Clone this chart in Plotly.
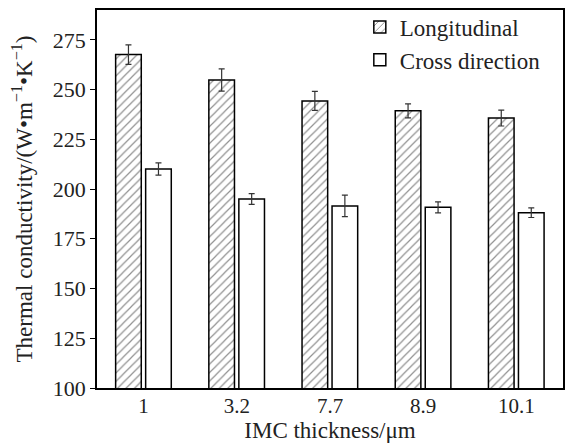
import plotly.graph_objects as go

categories = ["1", "3.2", "7.7", "8.9", "10.1"]
longitudinal = [267.6, 254.8, 244.3, 239.3, 235.7]
longitudinal_err = [4.9, 5.6, 4.8, 3.5, 4.0]
cross = [210.1, 195.0, 191.5, 190.8, 188.1]
cross_err = [3.1, 2.7, 5.4, 2.8, 2.4]

FONT = "Liberation Serif, Times New Roman, serif"

fig = go.Figure()
fig.add_trace(go.Bar(
    x=categories, y=longitudinal, name="Longitudinal",
    width=0.275, offset=-0.3,
    marker=dict(color="white", line=dict(color="black", width=1.5),
                pattern=dict(shape="/", fgcolor="#222", bgcolor="white", size=6, solidity=0.2)),
    error_y=dict(type="data", array=longitudinal_err, color="#333", thickness=1.2, width=3),
))
fig.add_trace(go.Bar(
    x=categories, y=cross, name="Cross direction",
    width=0.275, offset=0.022,
    marker=dict(color="white", line=dict(color="black", width=1.5)),
    error_y=dict(type="data", array=cross_err, color="#333", thickness=1.2, width=3),
))

fig.update_layout(
    width=566, height=443,
    margin=dict(l=97, r=1, t=10, b=55),
    barmode="overlay",
    plot_bgcolor="white", paper_bgcolor="white",
    font=dict(family=FONT, size=22, color="#222"),
    showlegend=True,
    legend=dict(x=0.564, y=1.012, xanchor="left", yanchor="top",
                bgcolor="rgba(0,0,0,0)", font=dict(family=FONT, size=23, color="#222"),
                tracegroupgap=0, itemwidth=30),
)
fig.update_xaxes(
    range=[-0.5, 4.5], showline=True, linecolor="black", linewidth=1.5, mirror=True,
    ticks="", showgrid=False, tickfont=dict(family=FONT, size=21), ticklabelstandoff=-2,
    title=dict(text="IMC thickness/μm", standoff=0, font=dict(family=FONT, size=23)),
)
fig.update_yaxes(
    range=[100, 290], tickvals=[100, 125, 150, 175, 200, 225, 250, 275],
    showline=True, linecolor="black", linewidth=1.5, mirror=True,
    ticks="outside", ticklen=5, tickcolor="black", showgrid=False,
    tickfont=dict(family=FONT, size=22),
    title=dict(text="Thermal conductivity/(W•m<sup>−1</sup>•K<sup>−1</sup>)", standoff=14,
               font=dict(family=FONT, size=23)),
)

fig.write_html("out.html", config={"displayModeBar": False},
               post_script="document.body.style.margin='0';document.body.style.overflow='hidden';")
